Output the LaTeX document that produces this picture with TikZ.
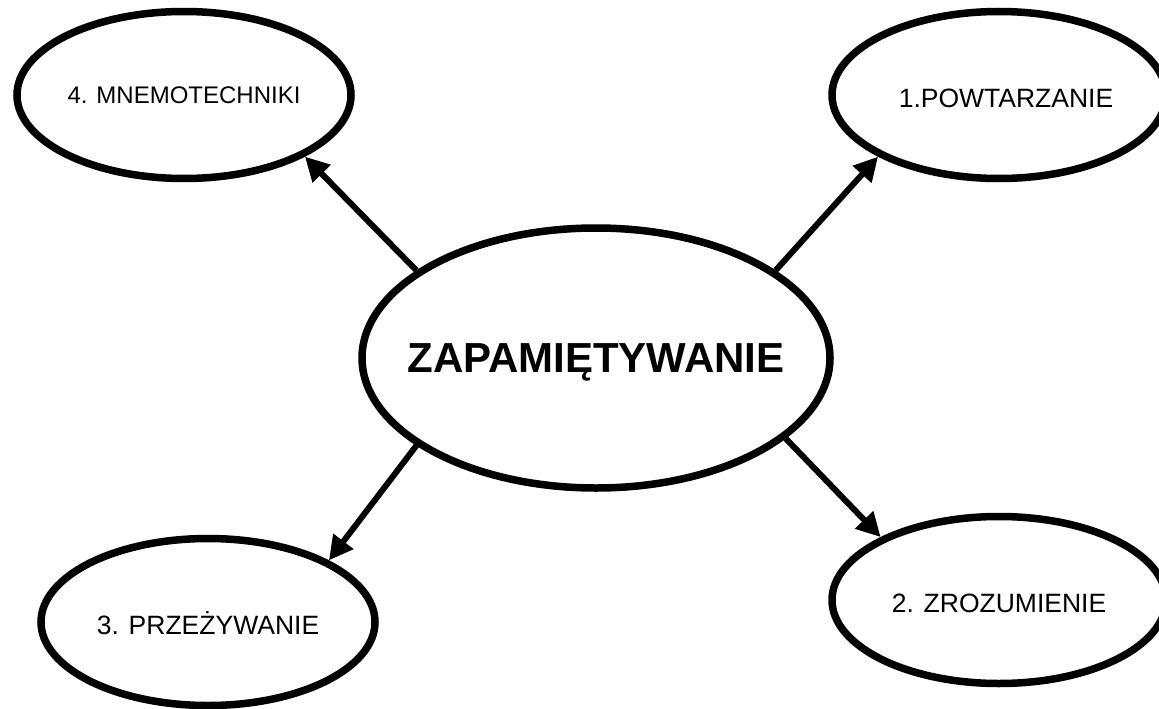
\documentclass[tikz,border=0pt]{standalone}
\usepackage{fontspec}
\setmainfont{Liberation Sans}
\usetikzlibrary{shapes.geometric,arrows.meta}
\begin{document}
\begin{tikzpicture}[x=1pt,y=-1pt,
  bubble/.style={draw=black, ellipse, line width=7.5pt, fill=white,
    minimum width=334pt, minimum height=167pt, inner xsep=-20pt, inner ysep=0pt,
    font=\fontsize{26.5}{30}\selectfont, text height=24pt, text depth=0pt},
  mainbubble/.style={bubble, minimum width=468pt, minimum height=260pt,
    inner xsep=-60pt,
    font=\fontsize{42}{48}\selectfont\bfseries, text height=29pt},
  link/.style={line width=6pt, -{Triangle[length=24pt,width=24pt]}}]
\useasboundingbox (0,0) rectangle (1159,709);
\fill[white] (0,0) rectangle (1159,709);
\node[mainbubble] (c) at (596,358) {ZAPAMIĘTYWANIE};
\node[bubble, font=\fontsize{24}{28}\selectfont, text height=17.5pt] (tl) at (184,95) {4. MNEMOTECHNIKI};
\node[bubble] (tr) at (999,95) {\hspace*{14pt}1.POWTARZANIE};
\node[bubble] (bl) at (208,622) {3. PRZEŻYWANIE};
\node[bubble] (br) at (999,600) {2. ZROZUMIENIE};
\draw[link] (c.154) -- (tl.-27.5);
\draw[link] (c.26.4) -- (tr.207);
\draw[link] (c.206.4) -- (bl.27.3);
\draw[link] (c.-23.7) -- (br.152.7);
\end{tikzpicture}
\end{document}
